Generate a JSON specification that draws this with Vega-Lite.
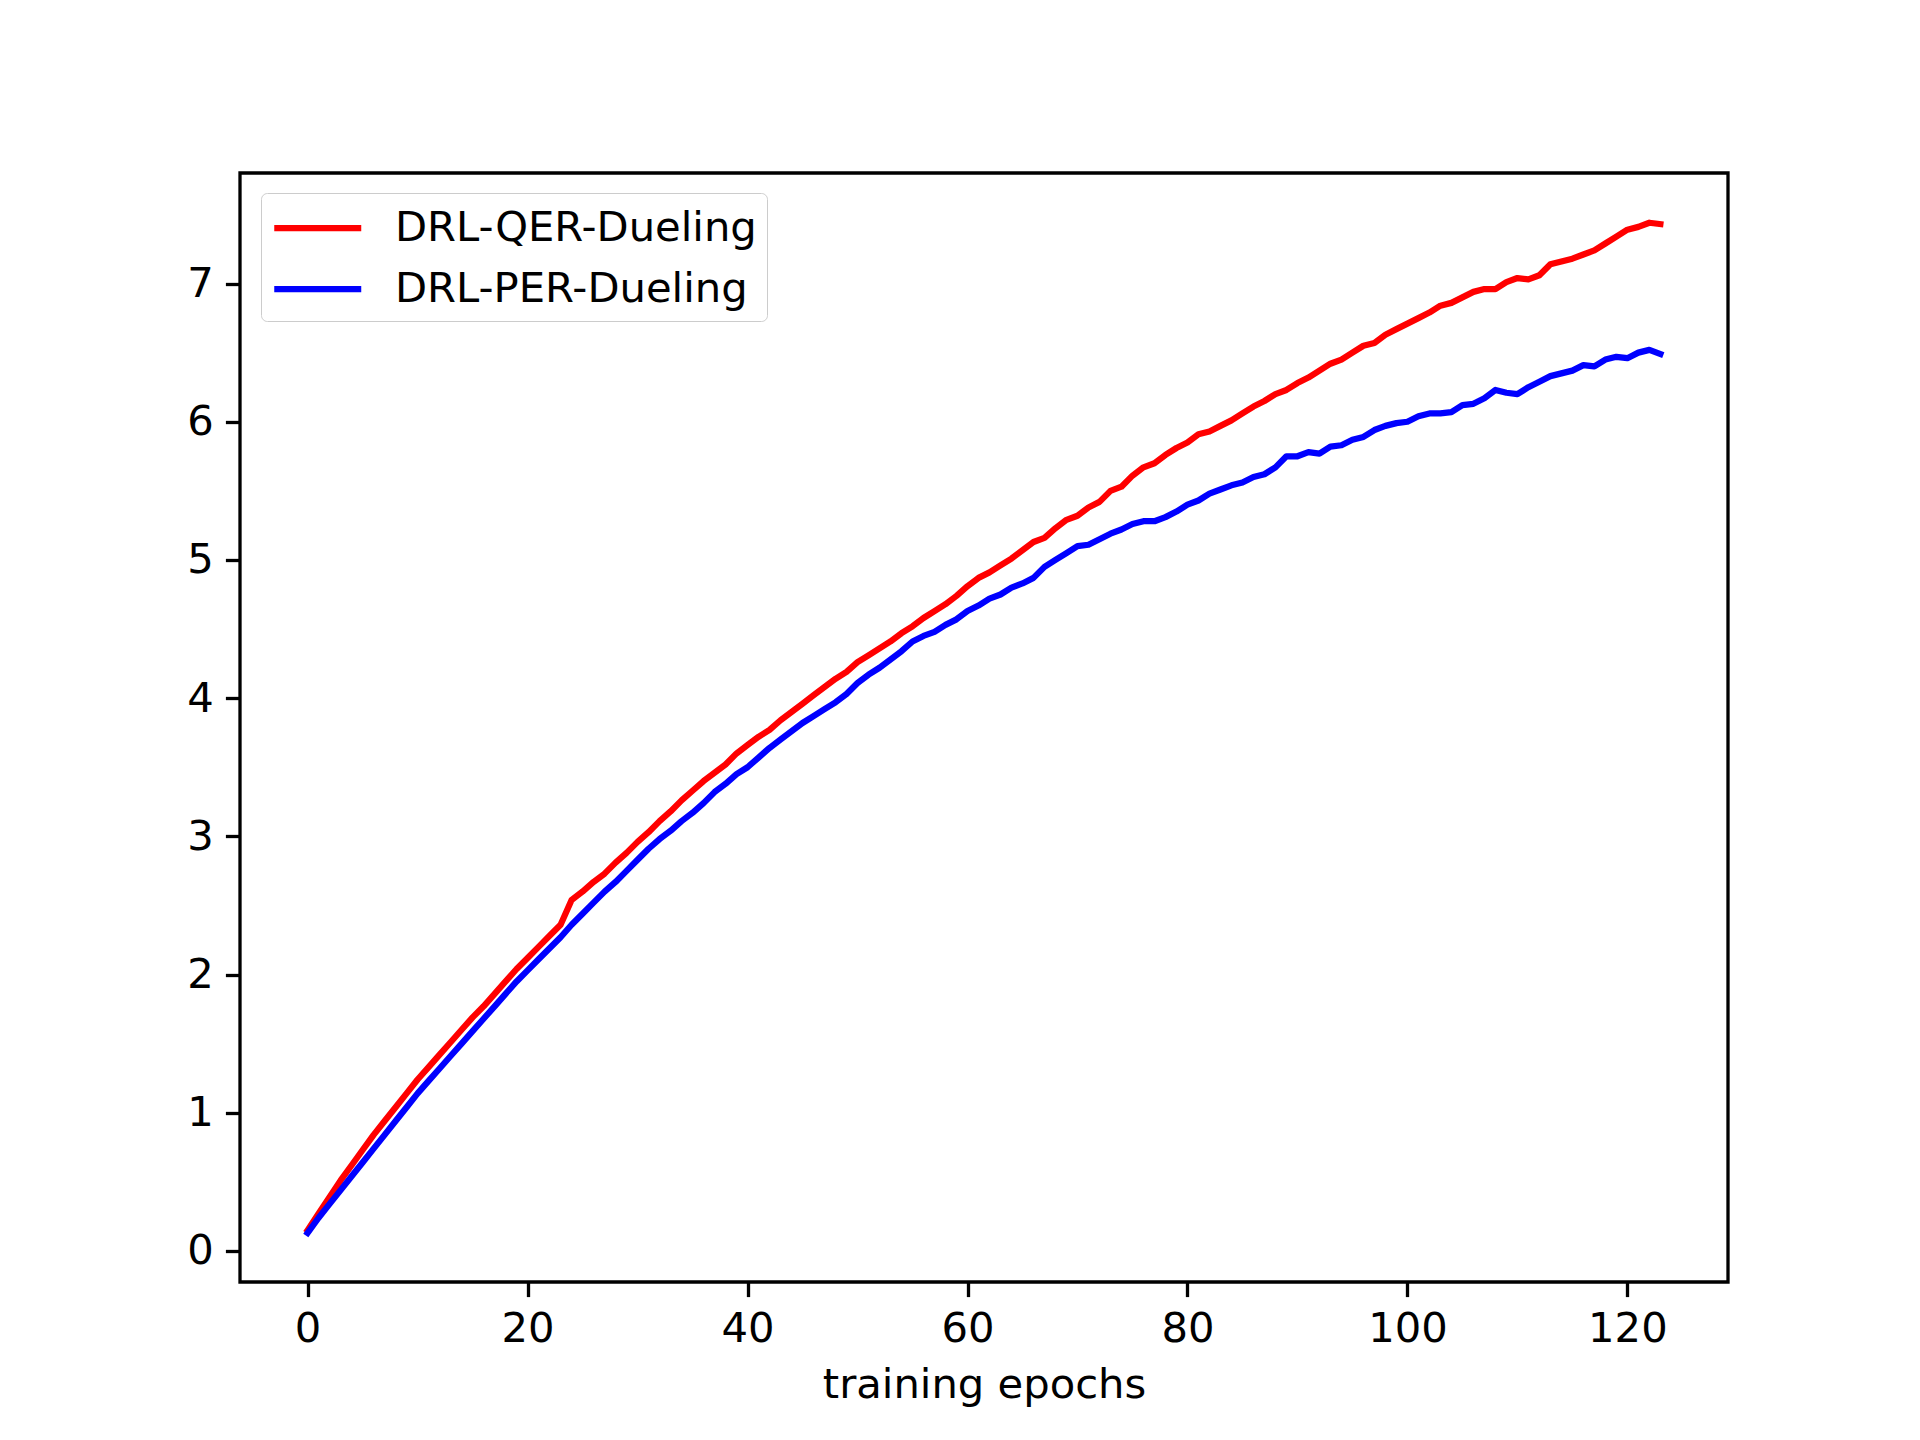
{
  "$schema": "https://vega.github.io/schema/vega-lite/v6.json",
  "autosize": "none",
  "background": "white",
  "padding": {"left": 240, "top": 173, "right": 192, "bottom": 158},
  "width": 1488,
  "height": 1109,
  "config": {
    "font": "DejaVu Sans",
    "view": {"stroke": "black", "strokeWidth": 3.3},
    "axis": {
      "labelFont": "DejaVu Sans", "titleFont": "DejaVu Sans",
      "labelFontSize": 41.7, "titleFontSize": 41.7,
      "labelColor": "black", "titleColor": "black",
      "titleFontWeight": "normal",
      "domain": false, "grid": false,
      "tickColor": "black", "tickSize": 14.6, "tickWidth": 3.3,
      "labelPadding": 12
    },
    "legend": {
      "labelFont": "DejaVu Sans", "labelFontSize": 41.7, "labelColor": "black"
    }
  },
  "data": {
    "values": [
      {"epoch": 0, "DRL-QER-Dueling": 0.15, "DRL-PER-Dueling": 0.13},
      {"epoch": 1, "DRL-QER-Dueling": 0.27, "DRL-PER-Dueling": 0.24},
      {"epoch": 2, "DRL-QER-Dueling": 0.39, "DRL-PER-Dueling": 0.34},
      {"epoch": 3, "DRL-QER-Dueling": 0.51, "DRL-PER-Dueling": 0.44},
      {"epoch": 4, "DRL-QER-Dueling": 0.62, "DRL-PER-Dueling": 0.54},
      {"epoch": 5, "DRL-QER-Dueling": 0.73, "DRL-PER-Dueling": 0.64},
      {"epoch": 6, "DRL-QER-Dueling": 0.84, "DRL-PER-Dueling": 0.74},
      {"epoch": 7, "DRL-QER-Dueling": 0.94, "DRL-PER-Dueling": 0.84},
      {"epoch": 8, "DRL-QER-Dueling": 1.04, "DRL-PER-Dueling": 0.94},
      {"epoch": 9, "DRL-QER-Dueling": 1.14, "DRL-PER-Dueling": 1.04},
      {"epoch": 10, "DRL-QER-Dueling": 1.24, "DRL-PER-Dueling": 1.14},
      {"epoch": 11, "DRL-QER-Dueling": 1.33, "DRL-PER-Dueling": 1.23},
      {"epoch": 12, "DRL-QER-Dueling": 1.42, "DRL-PER-Dueling": 1.32},
      {"epoch": 13, "DRL-QER-Dueling": 1.51, "DRL-PER-Dueling": 1.41},
      {"epoch": 14, "DRL-QER-Dueling": 1.6, "DRL-PER-Dueling": 1.5},
      {"epoch": 15, "DRL-QER-Dueling": 1.69, "DRL-PER-Dueling": 1.59},
      {"epoch": 16, "DRL-QER-Dueling": 1.77, "DRL-PER-Dueling": 1.68},
      {"epoch": 17, "DRL-QER-Dueling": 1.86, "DRL-PER-Dueling": 1.77},
      {"epoch": 18, "DRL-QER-Dueling": 1.95, "DRL-PER-Dueling": 1.86},
      {"epoch": 19, "DRL-QER-Dueling": 2.04, "DRL-PER-Dueling": 1.95},
      {"epoch": 20, "DRL-QER-Dueling": 2.12, "DRL-PER-Dueling": 2.03},
      {"epoch": 21, "DRL-QER-Dueling": 2.2, "DRL-PER-Dueling": 2.11},
      {"epoch": 22, "DRL-QER-Dueling": 2.28, "DRL-PER-Dueling": 2.19},
      {"epoch": 23, "DRL-QER-Dueling": 2.36, "DRL-PER-Dueling": 2.27},
      {"epoch": 24, "DRL-QER-Dueling": 2.54, "DRL-PER-Dueling": 2.36},
      {"epoch": 25, "DRL-QER-Dueling": 2.6, "DRL-PER-Dueling": 2.44},
      {"epoch": 26, "DRL-QER-Dueling": 2.67, "DRL-PER-Dueling": 2.52},
      {"epoch": 27, "DRL-QER-Dueling": 2.73, "DRL-PER-Dueling": 2.6},
      {"epoch": 28, "DRL-QER-Dueling": 2.81, "DRL-PER-Dueling": 2.67},
      {"epoch": 29, "DRL-QER-Dueling": 2.88, "DRL-PER-Dueling": 2.75},
      {"epoch": 30, "DRL-QER-Dueling": 2.96, "DRL-PER-Dueling": 2.83},
      {"epoch": 31, "DRL-QER-Dueling": 3.03, "DRL-PER-Dueling": 2.91},
      {"epoch": 32, "DRL-QER-Dueling": 3.11, "DRL-PER-Dueling": 2.98},
      {"epoch": 33, "DRL-QER-Dueling": 3.18, "DRL-PER-Dueling": 3.04},
      {"epoch": 34, "DRL-QER-Dueling": 3.26, "DRL-PER-Dueling": 3.11},
      {"epoch": 35, "DRL-QER-Dueling": 3.33, "DRL-PER-Dueling": 3.17},
      {"epoch": 36, "DRL-QER-Dueling": 3.4, "DRL-PER-Dueling": 3.24},
      {"epoch": 37, "DRL-QER-Dueling": 3.46, "DRL-PER-Dueling": 3.32},
      {"epoch": 38, "DRL-QER-Dueling": 3.52, "DRL-PER-Dueling": 3.38},
      {"epoch": 39, "DRL-QER-Dueling": 3.6, "DRL-PER-Dueling": 3.45},
      {"epoch": 40, "DRL-QER-Dueling": 3.66, "DRL-PER-Dueling": 3.5},
      {"epoch": 41, "DRL-QER-Dueling": 3.72, "DRL-PER-Dueling": 3.57},
      {"epoch": 42, "DRL-QER-Dueling": 3.77, "DRL-PER-Dueling": 3.64},
      {"epoch": 43, "DRL-QER-Dueling": 3.84, "DRL-PER-Dueling": 3.7},
      {"epoch": 44, "DRL-QER-Dueling": 3.9, "DRL-PER-Dueling": 3.76},
      {"epoch": 45, "DRL-QER-Dueling": 3.96, "DRL-PER-Dueling": 3.82},
      {"epoch": 46, "DRL-QER-Dueling": 4.02, "DRL-PER-Dueling": 3.87},
      {"epoch": 47, "DRL-QER-Dueling": 4.08, "DRL-PER-Dueling": 3.92},
      {"epoch": 48, "DRL-QER-Dueling": 4.14, "DRL-PER-Dueling": 3.97},
      {"epoch": 49, "DRL-QER-Dueling": 4.19, "DRL-PER-Dueling": 4.03},
      {"epoch": 50, "DRL-QER-Dueling": 4.26, "DRL-PER-Dueling": 4.11},
      {"epoch": 51, "DRL-QER-Dueling": 4.31, "DRL-PER-Dueling": 4.17},
      {"epoch": 52, "DRL-QER-Dueling": 4.36, "DRL-PER-Dueling": 4.22},
      {"epoch": 53, "DRL-QER-Dueling": 4.41, "DRL-PER-Dueling": 4.28},
      {"epoch": 54, "DRL-QER-Dueling": 4.47, "DRL-PER-Dueling": 4.34},
      {"epoch": 55, "DRL-QER-Dueling": 4.52, "DRL-PER-Dueling": 4.41},
      {"epoch": 56, "DRL-QER-Dueling": 4.58, "DRL-PER-Dueling": 4.45},
      {"epoch": 57, "DRL-QER-Dueling": 4.63, "DRL-PER-Dueling": 4.48},
      {"epoch": 58, "DRL-QER-Dueling": 4.68, "DRL-PER-Dueling": 4.53},
      {"epoch": 59, "DRL-QER-Dueling": 4.74, "DRL-PER-Dueling": 4.57},
      {"epoch": 60, "DRL-QER-Dueling": 4.81, "DRL-PER-Dueling": 4.63},
      {"epoch": 61, "DRL-QER-Dueling": 4.87, "DRL-PER-Dueling": 4.67},
      {"epoch": 62, "DRL-QER-Dueling": 4.91, "DRL-PER-Dueling": 4.72},
      {"epoch": 63, "DRL-QER-Dueling": 4.96, "DRL-PER-Dueling": 4.75},
      {"epoch": 64, "DRL-QER-Dueling": 5.01, "DRL-PER-Dueling": 4.8},
      {"epoch": 65, "DRL-QER-Dueling": 5.07, "DRL-PER-Dueling": 4.83},
      {"epoch": 66, "DRL-QER-Dueling": 5.13, "DRL-PER-Dueling": 4.87},
      {"epoch": 67, "DRL-QER-Dueling": 5.16, "DRL-PER-Dueling": 4.95},
      {"epoch": 68, "DRL-QER-Dueling": 5.23, "DRL-PER-Dueling": 5.0},
      {"epoch": 69, "DRL-QER-Dueling": 5.29, "DRL-PER-Dueling": 5.05},
      {"epoch": 70, "DRL-QER-Dueling": 5.32, "DRL-PER-Dueling": 5.1},
      {"epoch": 71, "DRL-QER-Dueling": 5.38, "DRL-PER-Dueling": 5.11},
      {"epoch": 72, "DRL-QER-Dueling": 5.42, "DRL-PER-Dueling": 5.15},
      {"epoch": 73, "DRL-QER-Dueling": 5.5, "DRL-PER-Dueling": 5.19},
      {"epoch": 74, "DRL-QER-Dueling": 5.53, "DRL-PER-Dueling": 5.22},
      {"epoch": 75, "DRL-QER-Dueling": 5.61, "DRL-PER-Dueling": 5.26},
      {"epoch": 76, "DRL-QER-Dueling": 5.67, "DRL-PER-Dueling": 5.28},
      {"epoch": 77, "DRL-QER-Dueling": 5.7, "DRL-PER-Dueling": 5.28},
      {"epoch": 78, "DRL-QER-Dueling": 5.76, "DRL-PER-Dueling": 5.31},
      {"epoch": 79, "DRL-QER-Dueling": 5.81, "DRL-PER-Dueling": 5.35},
      {"epoch": 80, "DRL-QER-Dueling": 5.85, "DRL-PER-Dueling": 5.4},
      {"epoch": 81, "DRL-QER-Dueling": 5.91, "DRL-PER-Dueling": 5.43},
      {"epoch": 82, "DRL-QER-Dueling": 5.93, "DRL-PER-Dueling": 5.48},
      {"epoch": 83, "DRL-QER-Dueling": 5.97, "DRL-PER-Dueling": 5.51},
      {"epoch": 84, "DRL-QER-Dueling": 6.01, "DRL-PER-Dueling": 5.54},
      {"epoch": 85, "DRL-QER-Dueling": 6.06, "DRL-PER-Dueling": 5.56},
      {"epoch": 86, "DRL-QER-Dueling": 6.11, "DRL-PER-Dueling": 5.6},
      {"epoch": 87, "DRL-QER-Dueling": 6.15, "DRL-PER-Dueling": 5.62},
      {"epoch": 88, "DRL-QER-Dueling": 6.2, "DRL-PER-Dueling": 5.67},
      {"epoch": 89, "DRL-QER-Dueling": 6.23, "DRL-PER-Dueling": 5.75},
      {"epoch": 90, "DRL-QER-Dueling": 6.28, "DRL-PER-Dueling": 5.75},
      {"epoch": 91, "DRL-QER-Dueling": 6.32, "DRL-PER-Dueling": 5.78},
      {"epoch": 92, "DRL-QER-Dueling": 6.37, "DRL-PER-Dueling": 5.77},
      {"epoch": 93, "DRL-QER-Dueling": 6.42, "DRL-PER-Dueling": 5.82},
      {"epoch": 94, "DRL-QER-Dueling": 6.45, "DRL-PER-Dueling": 5.83},
      {"epoch": 95, "DRL-QER-Dueling": 6.5, "DRL-PER-Dueling": 5.87},
      {"epoch": 96, "DRL-QER-Dueling": 6.55, "DRL-PER-Dueling": 5.89},
      {"epoch": 97, "DRL-QER-Dueling": 6.57, "DRL-PER-Dueling": 5.94},
      {"epoch": 98, "DRL-QER-Dueling": 6.63, "DRL-PER-Dueling": 5.97},
      {"epoch": 99, "DRL-QER-Dueling": 6.67, "DRL-PER-Dueling": 5.99},
      {"epoch": 100, "DRL-QER-Dueling": 6.71, "DRL-PER-Dueling": 6.0},
      {"epoch": 101, "DRL-QER-Dueling": 6.75, "DRL-PER-Dueling": 6.04},
      {"epoch": 102, "DRL-QER-Dueling": 6.79, "DRL-PER-Dueling": 6.06},
      {"epoch": 103, "DRL-QER-Dueling": 6.84, "DRL-PER-Dueling": 6.06},
      {"epoch": 104, "DRL-QER-Dueling": 6.86, "DRL-PER-Dueling": 6.07},
      {"epoch": 105, "DRL-QER-Dueling": 6.9, "DRL-PER-Dueling": 6.12},
      {"epoch": 106, "DRL-QER-Dueling": 6.94, "DRL-PER-Dueling": 6.13},
      {"epoch": 107, "DRL-QER-Dueling": 6.96, "DRL-PER-Dueling": 6.17},
      {"epoch": 108, "DRL-QER-Dueling": 6.96, "DRL-PER-Dueling": 6.23},
      {"epoch": 109, "DRL-QER-Dueling": 7.01, "DRL-PER-Dueling": 6.21},
      {"epoch": 110, "DRL-QER-Dueling": 7.04, "DRL-PER-Dueling": 6.2},
      {"epoch": 111, "DRL-QER-Dueling": 7.03, "DRL-PER-Dueling": 6.25},
      {"epoch": 112, "DRL-QER-Dueling": 7.06, "DRL-PER-Dueling": 6.29},
      {"epoch": 113, "DRL-QER-Dueling": 7.14, "DRL-PER-Dueling": 6.33},
      {"epoch": 114, "DRL-QER-Dueling": 7.16, "DRL-PER-Dueling": 6.35},
      {"epoch": 115, "DRL-QER-Dueling": 7.18, "DRL-PER-Dueling": 6.37},
      {"epoch": 116, "DRL-QER-Dueling": 7.21, "DRL-PER-Dueling": 6.41},
      {"epoch": 117, "DRL-QER-Dueling": 7.24, "DRL-PER-Dueling": 6.4},
      {"epoch": 118, "DRL-QER-Dueling": 7.29, "DRL-PER-Dueling": 6.45},
      {"epoch": 119, "DRL-QER-Dueling": 7.34, "DRL-PER-Dueling": 6.47},
      {"epoch": 120, "DRL-QER-Dueling": 7.39, "DRL-PER-Dueling": 6.46},
      {"epoch": 121, "DRL-QER-Dueling": 7.41, "DRL-PER-Dueling": 6.5},
      {"epoch": 122, "DRL-QER-Dueling": 7.44, "DRL-PER-Dueling": 6.52},
      {"epoch": 123, "DRL-QER-Dueling": 7.43, "DRL-PER-Dueling": 6.49}
    ]
  },
  "transform": [
    {"fold": ["DRL-QER-Dueling", "DRL-PER-Dueling"], "as": ["series", "value"]}
  ],
  "mark": {"type": "line", "strokeWidth": 6.25, "strokeCap": "square", "strokeJoin": "round"},
  "encoding": {
    "x": {
      "field": "epoch", "type": "quantitative", "title": "training epochs",
      "scale": {"domain": [-6.15, 129.15], "nice": false, "zero": false},
      "axis": {"values": [0, 20, 40, 60, 80, 100, 120], "titlePadding": 14}
    },
    "y": {
      "field": "value", "type": "quantitative", "title": null,
      "scale": {"domain": [-0.225, 7.8], "nice": false, "zero": false},
      "axis": {"values": [0, 1, 2, 3, 4, 5, 6, 7]}
    },
    "color": {
      "field": "series", "type": "nominal", "title": null,
      "scale": {"domain": ["DRL-QER-Dueling", "DRL-PER-Dueling"], "range": ["#ff0000", "#0000ff"]},
      "legend": {
        "orient": "none", "legendX": 21, "legendY": 20,
        "symbolType": "M-1,0H3", "symbolSize": 1892, "symbolStrokeWidth": 6.25,
        "labelOffset": 74, "labelLimit": 0, "rowPadding": 14, "padding": 10,
        "fillColor": "rgba(255,255,255,0.8)", "strokeColor": "#cccccc", "cornerRadius": 6
      }
    }
  }
}
